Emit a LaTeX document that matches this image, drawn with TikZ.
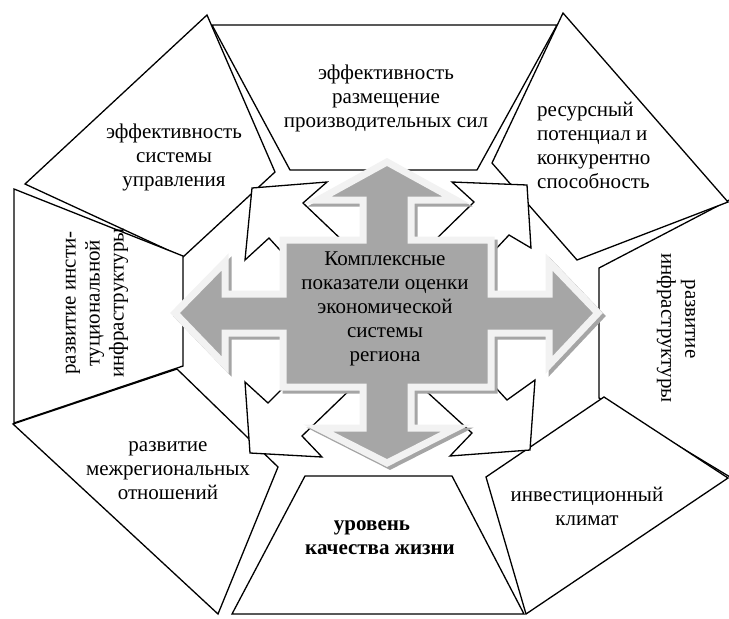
\documentclass[tikz,border=0pt]{standalone}
\usepackage{fontspec}
\setmainfont{Liberation Serif}
\definecolor{crossfill}{RGB}{166,166,166}
\definecolor{crossedge}{RGB}{242,242,242}
\definecolor{crossshadow}{RGB}{165,165,165}
\begin{document}
\begin{tikzpicture}[x=1pt,y=-1pt,
  blk/.style={draw=black, fill=white, line width=1.3pt, line join=miter},
  darr/.style={draw=black, fill=white, line width=1.3pt, line join=miter},
  lbl/.style={font=\fontsize{21}{24}\selectfont, align=center, inner sep=0pt, text=black},
]
\useasboundingbox (0,0) rectangle (729,619);
\clip (0,0) rectangle (729,619);
% outer blocks
\draw[blk] (212,25) -- (557,25) -- (477,170) -- (290,170) -- cycle;
\draw[blk] (207,15) -- (275,172) -- (183,257) -- (25,184) -- cycle;
\draw[blk] (14,189) -- (183,256) -- (183,366) -- (14,423) -- cycle;
\draw[blk] (13,424) -- (177,369) -- (278,467) -- (218,614) -- cycle;
\draw[blk] (305,476) -- (452,476) -- (524,614) -- (232,614) -- cycle;
\draw[blk] (599,268) -- (735,197) -- (735,480) -- (599,398) -- cycle;
\draw[blk] (604,397) -- (728,478) -- (526,614) -- (486,477) -- cycle;
\draw[blk] (563,13) -- (728,202) -- (577,260) -- (492,163) -- cycle;
% diagonal arrows
\draw[darr] (345,243) -- (303,203) -- (327,182) -- (252,188) -- (245,260) -- (269,238) -- (300,272) -- cycle;
\draw[darr] (430,245) -- (474,202) -- (452,182) -- (527,185) -- (531,248) -- (509,235) -- (478,268) -- cycle;
\draw[darr] (295,376) -- (268,403) -- (245,382) -- (250,453) -- (322,457) -- (302,436) -- (358,382) -- cycle;
\draw[darr] (485,376) -- (507,400) -- (535,380) -- (530,450) -- (450,456) -- (472,433) -- (415,381) -- cycle;
% central cross with shadow
\foreach \dx/\fc/\dc in {3/crossshadow/crossshadow, 0/crossfill/crossedge}{
\draw[shift={(\dx,\dx)}, fill=\fc, draw=\dc, line width=7pt, line join=miter]
 (283,240) -- (363,240) -- (363,200) -- (318,200) -- (387,162) -- (456,200) -- (411,200) -- (411,240)
 -- (491,240) -- (491,294) -- (549,294) -- (549,262) -- (598,313) -- (549,365) -- (549,333) -- (491,333)
 -- (491,387) -- (411,387) -- (411,428) -- (456,428) -- (387,463) -- (318,428) -- (363,428) -- (363,387)
 -- (283,387) -- (283,333) -- (225,333) -- (225,365) -- (175,313) -- (225,262) -- (225,294) -- (283,294) -- cycle;
}
% labels
\node[lbl] (ttop) at (386,98) {эффективность\\размещение\\производительных сил};
\node[lbl] (ttl) at (174,157) {эффективность\\системы\\управления};
\node[lbl, align=left, anchor=west] (ttr) at (537,145) {ресурсный\\потенциал и\\конкурентно\\способность};
\node[lbl, rotate=90] (tleft) at (97,303) {развитие инсти-\\туциональной\\инфраструктуры};
\node[lbl, rotate=-90] (tright) at (676,328) {развитие\hspace*{18pt}\\инфраструктуры};
\node[lbl] (tbl) at (168,471) {развитие\\межрегиональных\\отношений};
\node[lbl, font=\fontsize{21}{24}\selectfont\bfseries] (tbot) at (380,538) {уровень\hspace*{16pt}\\качества жизни};
\node[lbl] (tbr) at (587,506) {инвестиционный\\климат};
\node[lbl] (tc) at (385,309) {Комплексные\\показатели оценки\\экономической\\системы\\региона};
\end{tikzpicture}
\end{document}
